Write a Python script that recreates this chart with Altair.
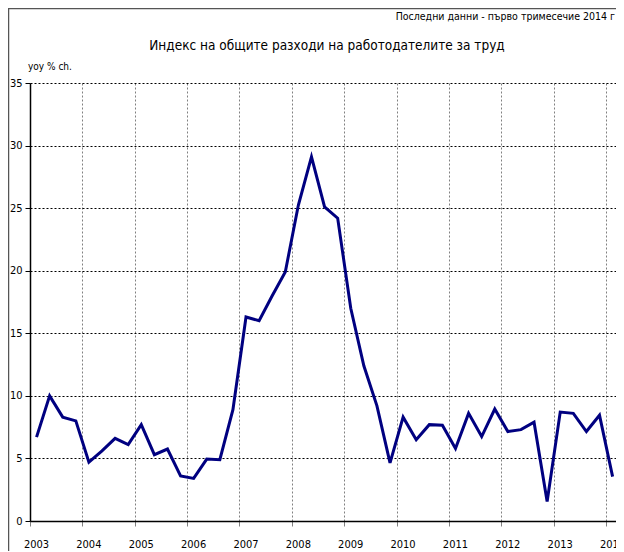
import altair as alt
import pandas as pd

FONT = "Liberation Sans Narrow, DejaVu Sans Condensed, Arial Narrow, sans-serif"

years = list(range(2003, 2015))
periods = [f"{y}Q{q}" for y in range(2003, 2014) for q in range(1, 5)] + ["2014Q1"]
values = [6.7, 10.0, 8.3, 8.0,
          4.7, 5.6, 6.6, 6.1,
          7.7, 5.3, 5.75, 3.6,
          3.4, 4.95, 4.9, 8.9,
          16.3, 16.0, 18.0, 19.9,
          25.25, 29.1, 25.1, 24.2,
          17.0, 12.4, 9.2, 4.65,
          8.3, 6.5, 7.7, 7.65,
          5.8, 8.6, 6.75, 8.95,
          7.15, 7.3, 7.9, 1.55,
          8.7, 8.6, 7.15, 8.45,
          3.55]
y_ticks = [0, 5, 10, 15, 20, 25, 30, 35]

title_text = "Индекс на общите разходи на работодателите за труд"
note_text = "Последни данни - първо тримесечие 2014 г"
unit_text = "yoy % ch."

df = pd.DataFrame({
    "period": periods,
    "t": [int(p[:4]) + (int(p[-1]) - 0.5) / 4 for p in periods],
    "v": values,
})

LEFT = 22
TOTAL_W = 608
W, H = TOTAL_W - LEFT, 438
X_END = 2014.19

x_enc = alt.X("t:Q",
              scale=alt.Scale(domain=[2003, X_END], nice=False, zero=False),
              axis=alt.Axis(values=years, format="d", title=None, labelOffset=6,
                            labelPadding=12, tickSize=5, tickColor="#808080",
                            grid=True, gridColor="#808080", gridDash=[2, 2],
                            gridWidth=1, domainColor="black", domainWidth=1.5,
                            labelFont=FONT, labelFontSize=11, labelColor="black",
                            labelFlush=False, labelOverlap=False))
y_enc = alt.Y("v:Q",
              scale=alt.Scale(domain=[0, 35], nice=False),
              axis=alt.Axis(values=y_ticks, title=None, tickSize=5, tickColor="black",
                            labelPadding=3, grid=True, gridColor="black",
                            gridDash=[2, 2], gridWidth=1, domainColor="black",
                            domainWidth=1.5, labelFont=FONT, labelFontSize=11,
                            labelColor="black"))

line = alt.Chart(df).mark_line(color="#000080", strokeWidth=3).encode(x=x_enc, y=y_enc)

texts = pd.DataFrame({"title": [title_text], "note": [note_text], "unit": [unit_text]})

title = alt.Chart(texts).mark_text(font=FONT, fontSize=13.5, color="black",
                                   align="center", baseline="middle").encode(
    text="title:N", x=alt.value(297), y=alt.value(-37))
note = alt.Chart(texts).mark_text(font=FONT, fontSize=10.5, color="black",
                                  align="right", baseline="middle").encode(
    text="note:N", x=alt.value(TOTAL_W - LEFT - 1), y=alt.value(-66))
unit = alt.Chart(texts).mark_text(font=FONT, fontSize=10, color="black",
                                  align="left", baseline="middle").encode(
    text="unit:N", x=alt.value(-2), y=alt.value(-16))
frame = alt.Chart(texts).mark_rect(fill=None, stroke="#555555", strokeWidth=1.5).encode(
    x=alt.value(-LEFT + 0.5), x2=alt.value(900), y=alt.value(-74.5), y2=alt.value(900))

chart = alt.layer(frame, line, title, note, unit).properties(
    width=W, height=H,
    autosize=alt.AutoSizeParams(type="none"),
    padding={"left": LEFT, "top": 75, "right": 0, "bottom": 30},
    background="white",
).configure_view(stroke=None)

chart.save("out.html", embed_options={"renderer": "svg", "actions": False})
